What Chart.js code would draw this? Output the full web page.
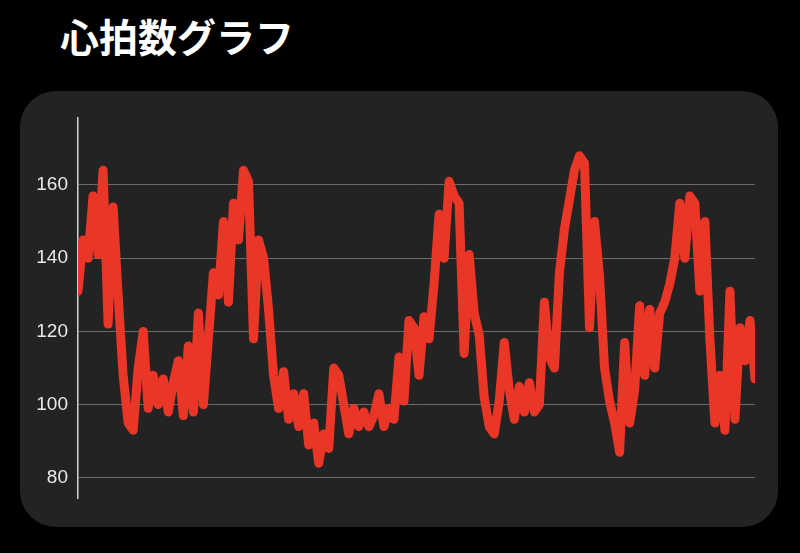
<!DOCTYPE html>
<html>
<head>
<meta charset="utf-8">
<script src="https://cdn.jsdelivr.net/npm/chart.js@4/dist/chart.umd.min.js"></script>
<style>
  html, body { margin: 0; padding: 0; background: #000; width: 800px; height: 553px; overflow: hidden; }
  #title {
    position: absolute; left: 60px; top: 13px; margin: 0;
    font-family: "Noto Sans CJK JP", sans-serif; font-weight: bold;
    font-size: 39px; line-height: 44px; color: #fff;
  }
  #panel {
    position: absolute; left: 20px; top: 91px; width: 758px; height: 436px;
    background: #232323; border-radius: 36px; overflow: hidden;
  }
  #panel canvas { display: block; }
</style>
</head>
<body>
<h1 id="title">心拍数グラフ</h1>
<div id="panel"><canvas id="chart" width="758" height="436"></canvas></div>
<script>
// heart rate readings left to right
const heartRate = [
  131, 145, 140, 157, 141, 164, 122, 154, 130, 108,
  95, 93, 110, 120, 99, 108, 100, 107, 98, 106,
  112, 97, 116, 98, 125, 100, 118, 136, 130, 150,
  128, 155, 145, 164, 161, 118, 145, 140, 126, 108,
  99, 109, 96, 103, 94, 103, 89, 95, 84, 92,
  88, 110, 108, 100, 92, 99, 94, 98, 94, 97,
  103, 94, 99, 96, 113, 101, 123, 121, 108, 124,
  118, 133, 152, 140, 161, 157, 155, 114, 141, 125,
  119, 102, 94, 92, 101, 117, 104, 96, 105, 98,
  106, 98, 100, 128, 113, 110, 136, 148, 156, 164,
  168, 166, 121, 150, 135, 110, 101, 95, 87, 117,
  95, 104, 127, 108, 126, 110, 125, 128, 133, 140,
  155, 140, 157, 155, 131, 150, 118, 95, 108, 93,
  131, 96, 121, 112, 123, 107
]
const samples = heartRate.map((_, i) => i)
const yTicks = [80, 100, 120, 140, 160]

new Chart(document.getElementById('chart'), {
  type: 'line',
  data: {
    labels: samples,
    datasets: [{
      data: heartRate,
      borderColor: 'rgb(233, 54, 38)',
      borderWidth: 9,
      borderJoinStyle: 'round',
      borderCapStyle: 'round',
      pointRadius: 0,
      tension: 0,
      clip: 0,
    }],
  },
  options: {
    responsive: false,
    animation: false,
    layout: { padding: { left: 0, top: 27, right: 23, bottom: 29 } },
    plugins: { legend: { display: false }, tooltip: { enabled: false } },
    scales: {
      x: { display: false, offset: false },
      y: {
        min: 74.5,
        max: 178.3,
        afterBuildTicks: (scale) => { scale.ticks = yTicks.map(v => ({ value: v })) },
        afterFit: (scale) => { scale.width = 58 },
        border: { display: true, color: '#d0d0d0', width: 1.5 },
        grid: { color: '#6a6a6a', lineWidth: 1, drawTicks: false },
        ticks: {
          color: '#e8e8e8',
          padding: 10,
          font: { family: 'Liberation Sans', size: 19 },
        },
      },
    },
  },
})
</script>
</body>
</html>
